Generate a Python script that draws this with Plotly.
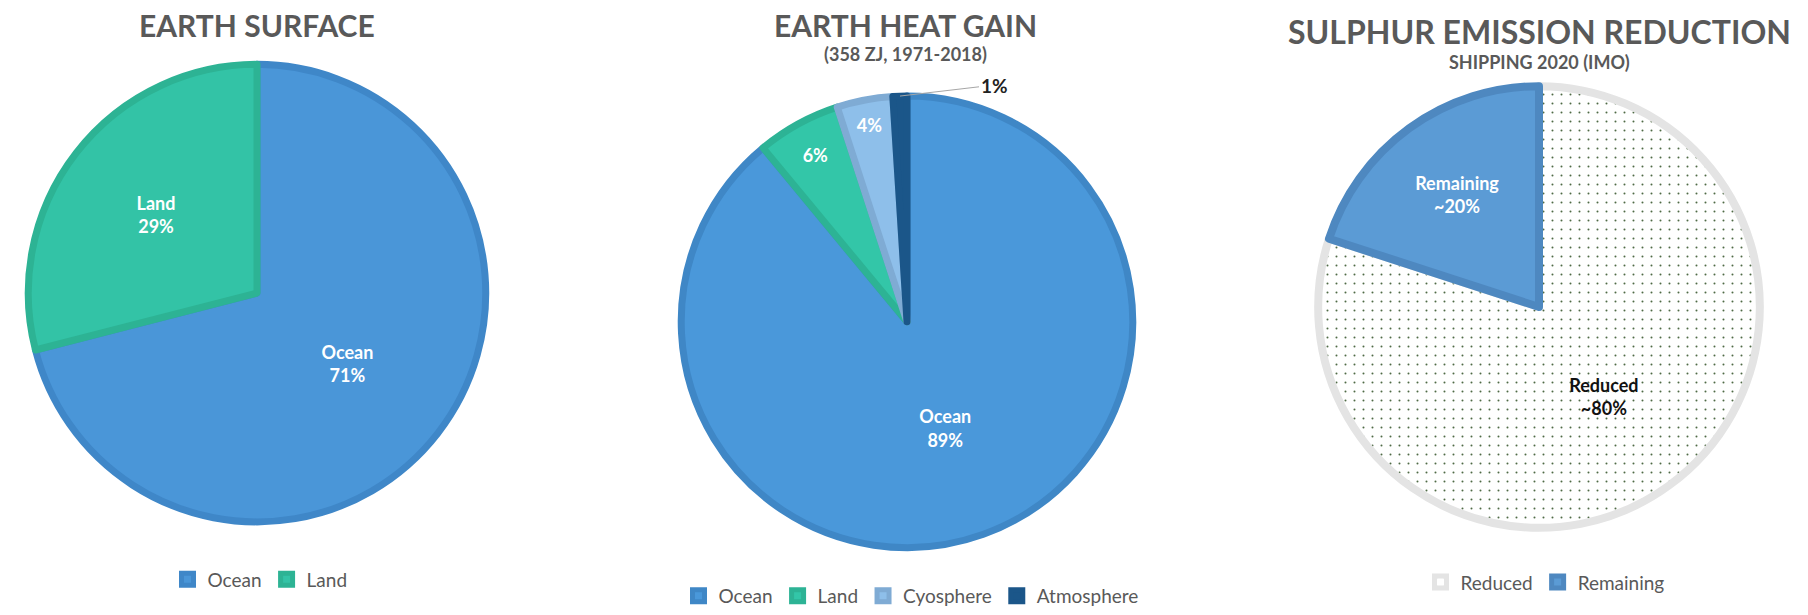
import plotly.graph_objects as go

W, H = 1808, 615

# ---- data ----
surface_labels = ["Ocean", "Land"]
surface_values = [71, 29]

heat_labels = ["Ocean", "Land", "Cyosphere", "Atmosphere"]
heat_values = [89, 6, 4, 1]

sulphur_labels = ["Reduced", "Remaining"]
sulphur_values = [80, 20]

titles = ["EARTH SURFACE", "EARTH HEAT GAIN", "SULPHUR EMISSION REDUCTION"]
subtitles = ["", "(358 ZJ, 1971-2018)", "SHIPPING 2020 (IMO)"]

FONT = "Lato"
GREY = "#595959"


def dom_x(cx, r):
    return [(cx - r) / W, (cx + r) / W]


def dom_y(cy, r):
    return [1 - (cy + r) / H, 1 - (cy - r) / H]


fig = go.Figure()

# Pie 1 : Earth surface
fig.add_trace(go.Pie(
    labels=surface_labels, values=surface_values, sort=False,
    direction="clockwise", rotation=0,
    text=[f"{l}<br>{v}%" for l, v in zip(surface_labels, surface_values)],
    textinfo="text", textposition="inside", insidetextorientation="horizontal",
    textfont=dict(family=FONT, size=18, color="white", weight="bold"),
    marker=dict(colors=["#4A96D8", "#33C3A6"],
                line=dict(color=["#3F87C8", "#2DB394"], width=7)),
    domain=dict(x=dom_x(257, 231), y=dom_y(296, 231)),
    legend="legend", hoverinfo="label+percent",
))

# Pie 2 : Earth heat gain (zero-width space keeps legend entries separate from pie 1)
heat_display = [l + "\u200b" for l in heat_labels]
heat_text = [f"{heat_labels[0]}<br>{heat_values[0]}%"] + [f"{v}%" for v in heat_values[1:]]
fig.add_trace(go.Pie(
    labels=heat_display, values=heat_values, sort=False,
    direction="clockwise", rotation=0,
    text=heat_text,
    textinfo="text", textposition=["inside", "inside", "inside", "none"],
    insidetextorientation="horizontal",
    textfont=dict(family=FONT, size=18, color="white", weight="bold"),
    marker=dict(colors=["#4A98DA", "#33C6A8", "#8EBFEA", "#1B5689"],
                line=dict(color=["#3F87C6", "#2DB395", "#7FABD4", "#1B5689"], width=7)),
    domain=dict(x=dom_x(907, 228), y=dom_y(325, 228)),
    legend="legend2", hoverinfo="label+percent",
))

# Pie 3 : Sulphur emission reduction
fig.add_trace(go.Pie(
    labels=sulphur_labels, values=sulphur_values, sort=False,
    direction="clockwise", rotation=0,
    text=[f"{l}<br>~{v}%" for l, v in zip(sulphur_labels, sulphur_values)],
    textinfo="text", textposition="inside", insidetextorientation="horizontal",
    textfont=dict(family=FONT, size=18, color=["#111111", "white"], weight="bold"),
    marker=dict(colors=["white", "#5B9BD5"],
                pattern=dict(shape=[".", ""], fgcolor="#4F6A45", bgcolor="white",
                             size=9, solidity=0.04),
                line=dict(color=["#E4E4E4", "#4E88C0"], width=8)),
    domain=dict(x=dom_x(1539, 223), y=dom_y(310, 223)),
    legend="legend3", hoverinfo="label+percent",
))

leg_common = dict(orientation="h", xanchor="center", yanchor="middle",
                  font=dict(family=FONT, size=19, color=GREY),
                  bgcolor="rgba(0,0,0,0)", itemwidth=30)

annotations = []
title_pos = [(257, 25), (905, 25), (1539, 32)]
title_size = [30, 30, 32]
sub_pos = [None, (905, 55), (1539, 63)]
for t, (x, y), s in zip(titles, title_pos, title_size):
    annotations.append(dict(text=t, x=x / W, y=1 - y / H, xref="paper", yref="paper",
                            showarrow=False, xanchor="center", yanchor="middle",
                            font=dict(family=FONT, size=s, color=GREY, weight="bold")))
for s, p in zip(subtitles, sub_pos):
    if p:
        annotations.append(dict(text=s, x=p[0] / W, y=1 - p[1] / H, xref="paper", yref="paper",
                                showarrow=False, xanchor="center", yanchor="middle",
                                font=dict(family=FONT, size=18, color=GREY, weight="bold")))

# outside label of the small atmosphere slice, with a leader line
annotations.append(dict(text=f"{heat_values[3]}%", x=900 / W, y=1 - 97 / H,
                        xref="paper", yref="paper", showarrow=True,
                        ax=94, ay=-11, arrowhead=0, arrowwidth=1, arrowcolor="#A6A6A6",
                        font=dict(family=FONT, size=19, color="#222222", weight="bold")))

fig.update_layout(
    width=W, height=H,
    margin=dict(l=0, r=0, t=0, b=0),
    paper_bgcolor="white", plot_bgcolor="white",
    showlegend=True,
    legend=dict(x=260 / W, y=1 - 585 / H, **leg_common),
    legend2=dict(x=911 / W, y=1 - 602 / H, **leg_common),
    legend3=dict(x=1545 / W, y=1 - 588 / H, **leg_common),
    annotations=annotations,
)

fig.write_html("out.html")
